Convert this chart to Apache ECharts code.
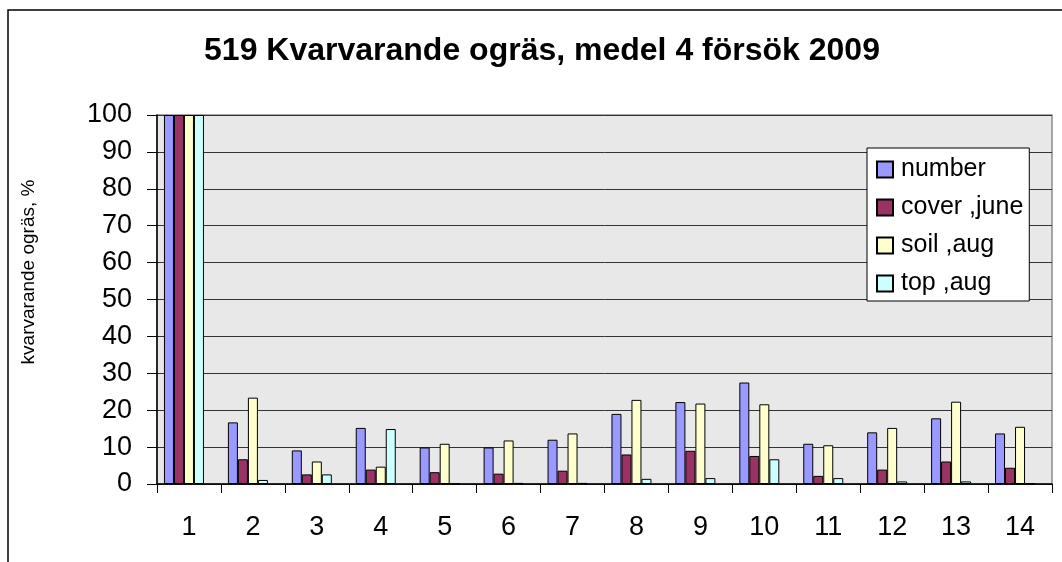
<!DOCTYPE html>
<html>
<head>
<meta charset="utf-8">
<script src="https://cdn.jsdelivr.net/npm/echarts@6/dist/echarts.min.js"></script>
<style>
  html, body { margin: 0; padding: 0; background: #fff; }
  #chart { width: 1062px; height: 562px; }
</style>
</head>
<body>
<div id="chart"></div>
<script>
var categories = ['1', '2', '3', '4', '5', '6', '7', '8', '9', '10', '11', '12', '13', '14'];
var numberVals = [100, 16.7, 9.1, 15.2, 9.9, 9.9, 12.0, 19.0, 22.2, 27.5, 10.9, 14.0, 17.8, 13.7];
var coverJune = [100, 6.7, 2.6, 3.9, 3.2, 2.8, 3.6, 8.0, 9.0, 7.6, 2.2, 3.9, 6.1, 4.4];
var soilAug = [100, 23.4, 6.1, 4.7, 10.9, 11.8, 13.7, 22.8, 21.8, 21.6, 10.5, 15.2, 22.3, 15.5];
var topAug = [100, 1.1, 2.6, 14.9, 0, 0.3, 0.3, 1.4, 1.6, 6.7, 1.6, 0.7, 0.7, 0.2];
var yTicks = [0, 10, 20, 30, 40, 50, 60, 70, 80, 90, 100];

var font = "'Liberation Sans', Arial, sans-serif";

function barSeries(name, data, color) {
    return {
        name: name,
        type: 'bar',
        data: data,
        barWidth: 10,
        barGap: 0,
        itemStyle: { color: color, borderColor: '#000', borderWidth: 1 }
    };
}

var myChart = echarts.init(document.getElementById('chart'));
myChart.setOption({
    animation: false,
    backgroundColor: '#fff',
    textStyle: { fontFamily: font },
    grid: {
        left: 157, right: 10, top: 115, bottom: 78,
        show: true,
        backgroundColor: '#E8E8E8',
        borderColor: '#8a8a8a',
        borderWidth: 1.5
    },
    graphic: [
        {
            type: 'rect',
            shape: { x: 8, y: 10, width: 1100, height: 600 },
            style: { fill: 'none', stroke: '#000', lineWidth: 1.5 },
            silent: true
        },
        {
            type: 'text', x: 542, y: 51,
            style: {
                text: '519 Kvarvarande ogräs, medel 4 försök 2009',
                font: 'bold 32px ' + font,
                fill: '#000', textAlign: 'center', textVerticalAlign: 'middle'
            }
        },
        {
            type: 'text', x: 29, y: 272, rotation: Math.PI / 2,
            style: {
                text: 'kvarvarande ogräs, %',
                font: '19px ' + font,
                fill: '#000', textAlign: 'center', textVerticalAlign: 'middle'
            }
        }
    ],
    legend: {
        orient: 'vertical',
        left: 867, top: 148,
        width: 167,
        backgroundColor: '#fff',
        borderColor: '#000',
        borderWidth: 1,
        padding: [9, 6, 5, 9],
        itemWidth: 16, itemHeight: 16,
        itemGap: 13,
        icon: 'rect',
        data: ['number', 'cover ,june', 'soil ,aug', 'top ,aug'],
        textStyle: { fontSize: 25, color: '#000', fontFamily: font, padding: [0, 0, 0, 3] }
    },
    xAxis: {
        type: 'category',
        data: categories,
        axisLine: { lineStyle: { color: '#000', width: 1.5 } },
        axisTick: { show: true, length: 9, lineStyle: { color: '#000' } },
        axisLabel: { fontSize: 27, color: '#000', margin: 30, fontFamily: font }
    },
    yAxis: {
        type: 'value',
        min: yTicks[0],
        max: yTicks[yTicks.length - 1],
        interval: 10,
        axisLine: { show: true, lineStyle: { color: '#000', width: 1.5 } },
        axisTick: { show: true, length: 10, lineStyle: { color: '#000' } },
        axisLabel: { fontSize: 27, color: '#000', margin: 25, fontFamily: font },
        splitLine: { lineStyle: { color: '#333', width: 1 } }
    },
    series: [
        barSeries('number', numberVals, '#9999FF'),
        barSeries('cover ,june', coverJune, '#993366'),
        barSeries('soil ,aug', soilAug, '#FFFFCC'),
        barSeries('top ,aug', topAug, '#CCFFFF'),
        // empty fifth slot, keeps the groups shifted left like the original
        { name: 'spacer', type: 'bar', data: [], barWidth: 10, barGap: 0 }
    ]
});
</script>
</body>
</html>
